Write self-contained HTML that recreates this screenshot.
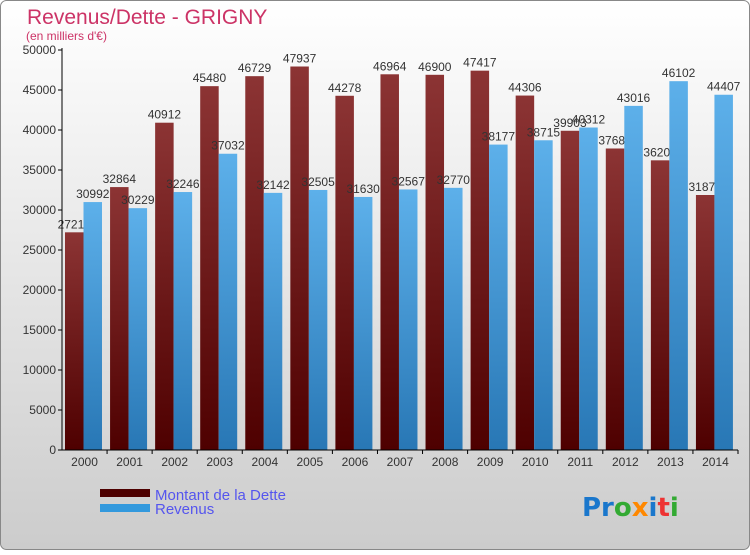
<!DOCTYPE html>
<html><head><meta charset="utf-8"><style>
body{margin:0;width:750px;height:550px;overflow:hidden;font-family:"Liberation Sans",sans-serif}
</style></head><body>
<svg id="c" width="750" height="550" xmlns="http://www.w3.org/2000/svg">
<defs>
<linearGradient id="bg" x1="0" y1="0" x2="0" y2="1"><stop offset="0" stop-color="#ffffff"/><stop offset="1" stop-color="#cccccc"/></linearGradient>
<linearGradient id="gr" x1="0" y1="0" x2="0" y2="1"><stop offset="0" stop-color="#8c3434"/><stop offset="1" stop-color="#4e0000"/></linearGradient>
<linearGradient id="gb" x1="0" y1="0" x2="0" y2="1"><stop offset="0" stop-color="#5db0ea"/><stop offset="1" stop-color="#2877b5"/></linearGradient>
</defs>
<rect x="0.5" y="0.5" width="749" height="549" rx="6" fill="url(#bg)" stroke="#888"/>
<text x="27" y="24" font-size="21" fill="#cc3366">Revenus/Dette - GRIGNY</text>
<text x="26" y="40" font-size="12" fill="#cc3366">(en milliers d'€)</text>
<g id="plot"></g>
<g>
<rect x="100" y="489" width="50" height="8" fill="#4e0000"/>
<text x="155" y="500" font-size="15" fill="#5555ee">Montant de la Dette</text>
<rect x="100" y="504" width="50" height="8" fill="#3399dd"/>
<text x="155" y="514" font-size="15" fill="#5555ee">Revenus</text>
</g>
<text x="582" y="516" font-size="26" font-weight="bold" font-family="DejaVu Sans,sans-serif"><tspan fill="#1a77cc">Pr</tspan><tspan fill="#33aa33">o</tspan><tspan fill="#ff8800">x</tspan><tspan fill="#1a77cc">i</tspan><tspan fill="#ee3333">t</tspan><tspan fill="#33aa33">i</tspan></text>
</svg>
<script>
const years=["2000","2001","2002","2003","2004","2005","2006","2007","2008","2009","2010","2011","2012","2013","2014"];
const dette=[27210,32864,40912,45480,46729,47937,44278,46964,46900,47417,44306,39903,37688,36209,31875];
const revenus=[30992,30229,32246,37032,32142,32505,31630,32567,32770,38177,38715,40312,43016,46102,44407];
const yTicks=[0,5000,10000,15000,20000,25000,30000,35000,40000,45000,50000];
const NS="http://www.w3.org/2000/svg";
const g=document.getElementById('plot');
const x0=62,x1=738,y0=450,y1=50,maxV=50000;
const step=(x1-x0)/years.length;
const y=v=>y0-(v/maxV)*(y0-y1);
function mk(t,a,p){const e=document.createElementNS(NS,t);for(const k in a)e.setAttribute(k,a[k]);(p||g).appendChild(e);return e;}
yTicks.forEach(v=>{
  const l=mk('line',{x1:x0-4,x2:x0,y1:y(v),y2:y(v),stroke:'#000'});
  
  
  const t=mk('text',{x:x0-6,y:y(v)+4,'text-anchor':'end','font-size':12,fill:'#333'});
  t.textContent=v;
  
  
});
years.forEach((yr,i)=>{
  const gx=x0+i*step;
  const bw=18.5;
  const rx=gx+3, bx=rx+bw;
  const r=mk('rect',{x:rx,y:y(dette[i]),width:bw,height:y0-y(dette[i]),fill:'url(#gr)'});
  
  
  const rl=mk('text',{x:rx+bw/2,y:y(dette[i])-4,'text-anchor':'middle','font-size':12,fill:'#333'});
  rl.textContent=dette[i];
  
  
  const b=mk('rect',{x:bx,y:y(revenus[i]),width:bw,height:y0-y(revenus[i]),fill:'url(#gb)'});
  
  
  const bl=mk('text',{x:bx+bw/2,y:y(revenus[i])-4,'text-anchor':'middle','font-size':12,fill:'#333'});
  bl.textContent=revenus[i];
  
  
  const xt=mk('text',{x:gx+step/2,y:466,'text-anchor':'middle','font-size':12,fill:'#333'});
  xt.textContent=yr;
  
  
  const tk=mk('line',{x1:gx+step,x2:gx+step,y1:y0,y2:y0+4,stroke:'#000'});
  
  
});
const ya=mk('line',{x1:x0,x2:x0,y1:y1-2,y2:y0,stroke:'#000'});


const xa=mk('line',{x1:x0,x2:x1,y1:y0,y2:y0,stroke:'#000'});


</script>
</body></html>
